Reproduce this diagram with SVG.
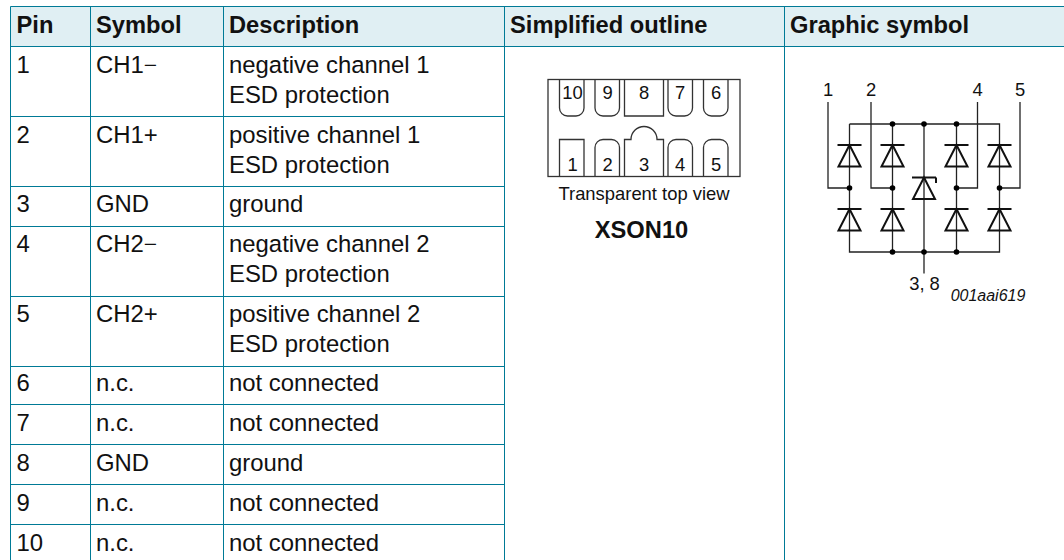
<svg xmlns="http://www.w3.org/2000/svg" width="1064" height="560" viewBox="0 0 1064 560">
<style>
text{font-family:"Liberation Sans",Arial,sans-serif;fill:#111}
.t{font-size:23.9px}
.h{font-size:23.7px;font-weight:bold}
.g{fill:none;stroke:#007a96;stroke-width:1}
.s{font-size:18.4px}
.p{fill:none;stroke:#333;stroke-width:1.3}
.w{fill:none;stroke:#222;stroke-width:1.3}
.b{fill:none;stroke:#111;stroke-width:2}
.d{fill:#000}
.m{text-anchor:middle}
.n{font-family:"Liberation Serif",serif}
</style>
<defs>
<g id="diode"><path class="b" d="M-12 0H12M0 0L-11 21.500H11Z"/></g>
</defs>
<rect x="10.500" y="6.500" width="1053.500" height="40" fill="#e0eff3"/>
<g id="grid" class="g">
<path d="M1064 6.500H10.500V560M90.500 6.500V560M223.500 6.500V560M504.500 6.500V560M784.500 6.500V560"/>
<path d="M10.500 46.500H1064M10.500 116.500H504.500M10.500 186.500H504.500M10.500 226.500H504.500M10.500 296.500H504.500M10.500 366.500H504.500M10.500 404.500H504.500M10.500 444.500H504.500M10.500 484.500H504.500M10.500 524.500H504.500"/>
</g>
<g id="header" class="h">
<text x="16.500" y="33">Pin</text><text x="96" y="33">Symbol</text><text x="229" y="33">Description</text><text x="510" y="33">Simplified outline</text><text x="790" y="33">Graphic symbol</text>
</g>
<g id="rows" class="t">
<text x="16.500" y="73">1</text><text x="96" y="73">CH1<tspan class="n">−</tspan></text><text x="229" y="73">negative channel 1</text><text x="229" y="102.500">ESD protection</text>
<text x="16.500" y="143">2</text><text x="96" y="143">CH1+</text><text x="229" y="143">positive channel 1</text><text x="229" y="172.500">ESD protection</text>
<text x="16.500" y="212">3</text><text x="96" y="212">GND</text><text x="229" y="212">ground</text>
<text x="16.500" y="252">4</text><text x="96" y="252">CH2<tspan class="n">−</tspan></text><text x="229" y="252">negative channel 2</text><text x="229" y="281.500">ESD protection</text>
<text x="16.500" y="322">5</text><text x="96" y="322">CH2+</text><text x="229" y="322">positive channel 2</text><text x="229" y="351.500">ESD protection</text>
<text x="16.500" y="391">6</text><text x="96" y="391">n.c.</text><text x="229" y="391">not connected</text>
<text x="16.500" y="431">7</text><text x="96" y="431">n.c.</text><text x="229" y="431">not connected</text>
<text x="16.500" y="471">8</text><text x="96" y="471">GND</text><text x="229" y="471">ground</text>
<text x="16.500" y="511">9</text><text x="96" y="511">n.c.</text><text x="229" y="511">not connected</text>
<text x="16.500" y="551">10</text><text x="96" y="551">n.c.</text><text x="229" y="551">not connected</text>
</g>
<g id="outline">
<rect class="p" x="548" y="79.500" width="192" height="97"/>
<path class="p" d="M559.500 80V108A8 8 0 0 0 567.500 116H576A8 8 0 0 0 584 108V80M595 80V108A8 8 0 0 0 603 116H611.500A8 8 0 0 0 619.500 108V80M624.500 80V116H663.500V80M668 80V108A8 8 0 0 0 676 116H684.500A8 8 0 0 0 692.500 108V80M703.500 80V108A8 8 0 0 0 711.500 116H720A8 8 0 0 0 728 108V80"/>
<path class="p" d="M559.500 176V139.500H584V176M595 176V147.500A8 8 0 0 1 603 139.500H611.500A8 8 0 0 1 619.500 147.500V176M624.500 176V139.500H631A13 13 0 0 1 657 139.500H663.500V176M668 176V147.500A8 8 0 0 1 676 139.500H684.500A8 8 0 0 1 692.500 147.500V176M703.500 176V147.500A8 8 0 0 1 711.500 139.500H720A8 8 0 0 1 728 147.500V176"/>
<g class="s m">
<text x="572.500" y="98.500">10</text><text x="607.500" y="98.500">9</text><text x="644" y="98.500">8</text><text x="680" y="98.500">7</text><text x="716" y="98.500">6</text>
<text x="572.500" y="170.500">1</text><text x="607.500" y="170.500">2</text><text x="644" y="170.500">3</text><text x="680" y="170.500">4</text><text x="716" y="170.500">5</text>
<text x="644" y="200">Transparent top view</text>
</g>
<text class="m" x="641.500" y="238" font-size="23.700" font-weight="bold">XSON10</text>
</g>
<g id="connectors" class="w">
<path d="M849.500 124V252H999.500V124H849.500M892.500 124V252M956.500 124V252M924 124V273.500"/>
<path d="M828 102V188H849.500M871 102V188H892.500M977.500 102V188H956.500M1020 102V188H999.500"/>
</g>
<g id="diodes">
<use href="#diode" x="849.500" y="145"/><use href="#diode" x="892.500" y="145"/><use href="#diode" x="956.500" y="145"/><use href="#diode" x="999.500" y="145"/>
<use href="#diode" x="849.500" y="209"/><use href="#diode" x="892.500" y="209"/><use href="#diode" x="956.500" y="209"/><use href="#diode" x="999.500" y="209"/>
<use href="#diode" x="924" y="177.500"/><path class="b" d="M936 177.500V183"/>
</g>
<g id="dots" class="d">
<circle cx="892.500" cy="124" r="2.800"/><circle cx="924" cy="124" r="2.800"/><circle cx="956.500" cy="124" r="2.800"/>
<circle cx="849.500" cy="188" r="2.800"/><circle cx="892.500" cy="188" r="2.800"/><circle cx="956.500" cy="188" r="2.800"/><circle cx="999.500" cy="188" r="2.800"/>
<circle cx="892.500" cy="252" r="2.800"/><circle cx="924" cy="252" r="2.800"/><circle cx="956.500" cy="252" r="2.800"/>
</g>
<g id="labels" class="s m">
<text x="828" y="96">1</text><text x="871" y="96">2</text><text x="977.500" y="96">4</text><text x="1020" y="96">5</text>
<text x="924.500" y="290">3, 8</text>
<text x="988" y="301" font-size="16" font-style="italic">001aai619</text>
</g>
</svg>
